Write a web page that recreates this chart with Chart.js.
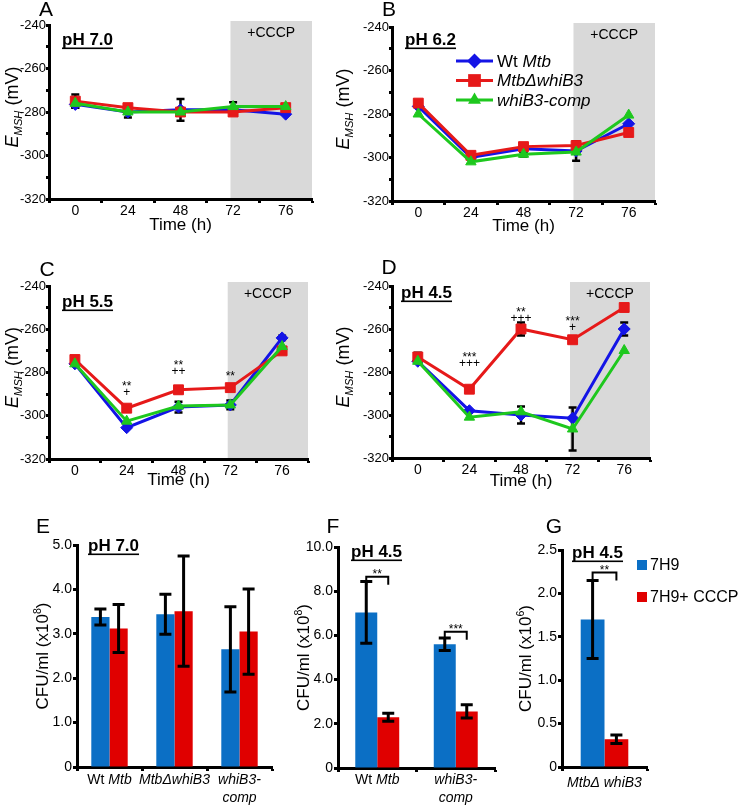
<!DOCTYPE html>
<html lang="en">
<head>
<meta charset="UTF-8">
<title>EMSH and survival</title>
<script src="https://cdn.jsdelivr.net/npm/chart.js"></script>
<style>
    body { margin: 0; background: #fff; width: 745px; height: 805px; position: relative; overflow: hidden; }
    canvas { position: absolute; }
</style>
</head>
<body>
<canvas id="chartA" width="345" height="240" style="left:0;top:0"></canvas>
<canvas id="chartB" width="345" height="240" style="left:332px;top:0"></canvas>
<canvas id="chartC" width="345" height="240" style="left:0;top:260px"></canvas>
<canvas id="chartD" width="345" height="240" style="left:332px;top:260px"></canvas>
<canvas id="chartE" width="290" height="290" style="left:0;top:515px"></canvas>
<canvas id="chartF" width="225" height="290" style="left:285px;top:515px"></canvas>
<canvas id="chartG" width="240" height="290" style="left:505px;top:515px"></canvas>
<script>
// ---- data ----
const timePoints = ['0', '24', '48', '72', '76'];

// A, pH 7.0
const aWt   = [-276.5, -280, -279, -279, -281];
const aDel  = [-275, -278, -280, -280, -278];
const aComp = [-276, -280, -280, -277.5, -277.5];
const aWtErr   = [1.5, 0, 5, 0, 0];
const aDelErr  = [3, 0, 0, 0, 0];
const aCompErr = [0, 2.5, 0, 2, 0];

// B, pH 6.2
const bWt   = [-276.5, -300, -296, -297, -284.5];
const bDel  = [-275, -299, -295, -294.5, -288.5];
const bComp = [-280, -302, -298.5, -297.5, -280.5];
const bWtErr   = [0, 0, 1.5, 4.5, 0];
const bDelErr  = [0, 1, 1, 0, 0];
const bCompErr = [0, 0, 1, 0, 0];

// C, pH 5.5
const cWt   = [-276, -305.5, -296, -295, -264];
const cDel  = [-274, -296.5, -288, -287, -270];
const cComp = [-276, -302.5, -295.5, -295, -268];
const cWtErr   = [0, 0, 2.5, 2, 1];
const cDelErr  = [1, 0, 1.5, 1.5, 0];
const cCompErr = [0, 0, 0, 0, 0];
const cStarAt   = [1, 2, 3];
const cStarVal  = [-285, -275.5, -280.5];
const cStarText = [['**', '+'], ['**', '++'], ['**']];

// D, pH 4.5
const dWt   = [-275, -298, -300, -301.5, -260];
const dDel  = [-273, -288, -260, -265, -250];
const dComp = [-275, -301, -298.5, -306.5, -270];
const dWtErr   = [0, 0, 4, 0, 3];
const dDelErr  = [2, 0, 3, 0, 0];
const dCompErr = [0, 0, 0, 10, 0];
const dStarAt   = [1, 2, 3];
const dStarVal  = [-272, -251, -255];
const dStarText = [['***', '+++'], ['**', '+++'], ['***', '+']];

// E, CFU pH 7.0 (x10^8)
const eLabels  = [['Wt Mtb'], ['MtbΔwhiB3'], ['whiB3-', 'comp']];
const e7H9     = [3.38, 3.44, 2.65];
const e7H9Err  = [0.18, 0.45, 0.96];
const eCCCP    = [3.12, 3.51, 3.05];
const eCCCPErr = [0.54, 1.24, 0.96];

// F, CFU pH 4.5 (x10^8)
const fLabels  = [['Wt Mtb'], ['whiB3-', 'comp']];
const f7H9     = [7.04, 5.6];
const f7H9Err  = [1.4, 0.28];
const fCCCP    = [2.3, 2.56];
const fCCCPErr = [0.18, 0.3];
const fSigVal  = [8.65, 6.17];
const fSigText = ['**', '***'];

// G, CFU pH 4.5 (x10^6)
const gLabels  = [['MtbΔ whiB3']];
const g7H9     = [1.7];
const g7H9Err  = [0.45];
const gCCCP    = [0.32];
const gCCCPErr = [0.05];
const gSigVal  = [2.24];
const gSigText = ['**'];

// ---- styles ----
const FONT = 'Arial, "Liberation Sans", sans-serif';
const BLUE_LINE = '#1414e6', RED_LINE = '#e61919', GREEN_LINE = '#1ec81e';
const BAR_BLUE = '#0b6fc5', BAR_RED = '#e00000';
const SHADE_FROM = 2.95; // CCCP added at 72 h

Chart.defaults.font.family = FONT;
Chart.defaults.color = '#000';

function drawRuns(ctx, runs, x, y, size) {
    let cx = x;
    runs.forEach(r => {
        const s = r.mode ? size * 0.62 : size;
        ctx.font = (r.italic ? 'italic ' : '') + s + 'px ' + FONT;
        const dy = r.mode === 'sub' ? size * 0.22 : r.mode === 'sup' ? -size * 0.42 : 0;
        ctx.fillText(r.text, cx, y + dy);
        cx += ctx.measureText(r.text).width;
    });
    return cx - x;
}
function runsWidth(ctx, runs, size) {
    let w = 0;
    runs.forEach(r => {
        const s = r.mode ? size * 0.62 : size;
        ctx.font = (r.italic ? 'italic ' : '') + s + 'px ' + FONT;
        w += ctx.measureText(r.text).width;
    });
    return w;
}
function rotatedTitle(ctx, runs, cx, cy, size) {
    ctx.save();
    ctx.translate(cx, cy);
    ctx.rotate(-Math.PI / 2);
    ctx.fillStyle = '#000';
    ctx.textAlign = 'left';
    ctx.textBaseline = 'alphabetic';
    const w = runsWidth(ctx, runs, size);
    drawRuns(ctx, runs, -w / 2, size * 0.36, size);
    ctx.restore();
}
function underlinedBold(ctx, text, x, baseline) {
    ctx.font = 'bold 17px ' + FONT;
    ctx.fillStyle = '#000';
    ctx.textAlign = 'left';
    ctx.textBaseline = 'alphabetic';
    ctx.fillText(text, x, baseline);
    ctx.fillRect(x, baseline + 2.5, ctx.measureText(text).width, 1.6);
}
function letter(ctx, t, x, y) {
    ctx.font = '21px ' + FONT;
    ctx.fillStyle = '#000';
    ctx.textAlign = 'center';
    ctx.textBaseline = 'middle';
    ctx.fillText(t, x, y);
}
// "Wt " upright, the rest italic
function strainRuns(line) {
    if (line.startsWith('Wt ')) return [{ text: 'Wt ' }, { text: line.slice(3), italic: true }];
    return [{ text: line, italic: true }];
}
function drawMarker(ctx, style, x, y, r, color) {
    ctx.fillStyle = color;
    ctx.beginPath();
    if (style === 'rect') {
        const s = r * Math.SQRT1_2;
        ctx.rect(x - s, y - s, 2 * s, 2 * s);
    } else if (style === 'rectRot') {
        ctx.moveTo(x - r, y); ctx.lineTo(x, y - r); ctx.lineTo(x + r, y); ctx.lineTo(x, y + r);
    } else {
        ctx.moveTo(x, y - r); ctx.lineTo(x + 0.866 * r, y + 0.5 * r); ctx.lineTo(x - 0.866 * r, y + 0.5 * r);
    }
    ctx.closePath();
    ctx.fill();
}
function errorBars(chart, capHalf, width) {
    const { ctx, scales: { y } } = chart;
    ctx.save();
    ctx.strokeStyle = '#000';
    ctx.lineWidth = width;
    chart.data.datasets.forEach((ds, di) => {
        const meta = chart.getDatasetMeta(di);
        ds.errors.forEach((e, i) => {
            if (!e) return;
            const px = meta.data[i].x;
            const v = ds.data[i];
            const top = y.getPixelForValue(v + e), bot = y.getPixelForValue(v - e);
            ctx.beginPath();
            ctx.moveTo(px, top); ctx.lineTo(px, bot);
            ctx.moveTo(px - capHalf, top); ctx.lineTo(px + capHalf, top);
            ctx.moveTo(px - capHalf, bot); ctx.lineTo(px + capHalf, bot);
            ctx.stroke();
        });
    });
    ctx.restore();
}

const axisGrid = { display: true, drawOnChartArea: false, drawTicks: true, tickLength: 4, tickWidth: 3, color: '#000' };
const axisBorder = { display: true, color: '#000', width: 3 };

function mkLine(label, data, errors, color, style, radius, order) {
    return {
        label, data, errors, order,
        borderColor: color, backgroundColor: color, borderWidth: 3, tension: 0,
        pointStyle: style, pointRadius: radius, pointBorderWidth: 1,
        pointBackgroundColor: color, pointBorderColor: color
    };
}

const lineMarkers = [['rectRot', BLUE_LINE, [{ text: 'Wt ' }, { text: 'Mtb', italic: true }]],
                     ['rect', RED_LINE, [{ text: 'MtbΔwhiB3', italic: true }]],
                     ['triangle', GREEN_LINE, [{ text: 'whiB3-comp', italic: true }]]];

function lineChart(id, p) {
    const plugin = {
        id: 'deco' + p.letter,
        beforeDraw(chart) {
            const { ctx, chartArea: a, scales: { x } } = chart;
            const x0 = x.getPixelForValue(SHADE_FROM);
            ctx.save();
            ctx.fillStyle = '#d9d9d9';
            ctx.fillRect(x0, a.top - 4, a.right - x0, a.bottom - a.top + 4);
            ctx.fillStyle = '#000';
            ctx.font = '14px ' + FONT;
            ctx.textAlign = 'center';
            ctx.textBaseline = 'middle';
            ctx.fillText('+CCCP', (x0 + a.right) / 2, a.top + 8);
            ctx.restore();
        },
        beforeDatasetsDraw(chart) { errorBars(chart, 4, 2.5); },
        afterDraw(chart) {
            const { ctx, chartArea: a, scales: { x, y } } = chart;
            ctx.save();
            letter(ctx, p.letter, p.letterX, p.letterY);
            underlinedBold(ctx, p.ph, a.left + p.phDx, a.top + p.phDy);
            rotatedTitle(ctx, [{ text: 'E', italic: true }, { text: 'MSH', italic: true, mode: 'sub' }, { text: ' (mV)' }],
                p.yTitleX, (a.top + a.bottom) / 2 - 5, 18);
            ctx.font = '17px ' + FONT;
            ctx.textAlign = 'center';
            ctx.textBaseline = 'middle';
            ctx.fillStyle = '#000';
            ctx.fillText('Time (h)', (a.left + a.right) / 2, a.bottom + p.xTitleDy);
            if (p.starAt) {
                ctx.font = '12px ' + FONT;
                p.starAt.forEach((idx, k) => {
                    const px = x.getPixelForValue(idx);
                    const py = y.getPixelForValue(p.starVal[k]);
                    p.starText[k].forEach((t, j) => {
                        ctx.fillText(t, px, py + j * 9 + (t[0] === '*' ? 3 : 0));
                    });
                });
            }
            if (p.legend) {
                lineMarkers.forEach((m, k) => {
                    const ly = p.legendY + k * 19.5;
                    const lx = a.left + p.legendDx;
                    ctx.strokeStyle = m[1];
                    ctx.lineWidth = 3;
                    ctx.beginPath(); ctx.moveTo(lx, ly); ctx.lineTo(lx + 37, ly); ctx.stroke();
                    drawMarker(ctx, m[0], lx + 18.5, ly, m[0] === 'rect' ? 9 : 7.5, m[1]);
                    ctx.fillStyle = '#000';
                    ctx.textAlign = 'left';
                    ctx.textBaseline = 'middle';
                    drawRuns(ctx, m[2], lx + 41, ly + 1, 17);
                });
            }
            ctx.restore();
        }
    };
    return new Chart(document.getElementById(id), {
        type: 'line',
        data: {
            labels: timePoints,
            datasets: [
                mkLine('Wt Mtb', p.wt, p.wtErr, BLUE_LINE, 'rectRot', 6, 3),
                mkLine('MtbΔwhiB3', p.del, p.delErr, RED_LINE, 'rect', 7, 2),
                mkLine('whiB3-comp', p.comp, p.compErr, GREEN_LINE, 'triangle', 6, 1)
            ]
        },
        options: {
            responsive: false,
            animation: false,
            layout: { padding: { left: 0, top: p.padTop, right: p.padRight, bottom: 0 } },
            plugins: { legend: { display: false }, tooltip: { enabled: false } },
            scales: {
                x: {
                    offset: true,
                    grid: Object.assign({ offset: true }, axisGrid),
                    border: axisBorder,
                    ticks: { font: { size: 14 }, padding: 0, maxRotation: 0 },
                    afterFit: s => { s.height = p.xHeight; }
                },
                y: {
                    min: -320, max: -240,
                    grid: Object.assign({}, axisGrid, { tickLength: 3 }),
                    border: axisBorder,
                    ticks: { stepSize: 10, autoSkip: false, padding: 0, font: { size: 13 },
                             callback: v => (v % 20 === 0 ? v : '') },
                    afterFit: s => { s.width = p.yWidth; }
                }
            }
        },
        plugins: [plugin]
    });
}

lineChart('chartA', { letter: 'A', letterX: 46, letterY: 10, ph: 'pH 7.0', phDx: 13, phDy: 20,
    wt: aWt, del: aDel, comp: aComp, wtErr: aWtErr, delErr: aDelErr, compErr: aCompErr,
    padTop: 25, padRight: 33, xHeight: 41, yWidth: 49, yTitleX: 12, xTitleDy: 26 });
lineChart('chartB', { letter: 'B', letterX: 57, letterY: 10, ph: 'pH 6.2', phDx: 13, phDy: 18,
    wt: bWt, del: bDel, comp: bComp, wtErr: bWtErr, delErr: bDelErr, compErr: bCompErr,
    padTop: 27, padRight: 22, xHeight: 39, yWidth: 60, yTitleX: 11, xTitleDy: 25,
    legend: true, legendDx: 64, legendY: 61 });
lineChart('chartC', { letter: 'C', letterX: 47, letterY: 10, ph: 'pH 5.5', phDx: 13, phDy: 21,
    wt: cWt, del: cDel, comp: cComp, wtErr: cWtErr, delErr: cDelErr, compErr: cCompErr,
    starAt: cStarAt, starVal: cStarVal, starText: cStarText,
    padTop: 26, padRight: 37, xHeight: 41, yWidth: 49, yTitleX: 12, xTitleDy: 21 });
lineChart('chartD', { letter: 'D', letterX: 57, letterY: 8, ph: 'pH 4.5', phDx: 9, phDy: 12,
    wt: dWt, del: dDel, comp: dComp, wtErr: dWtErr, delErr: dDelErr, compErr: dCompErr,
    starAt: dStarAt, starVal: dStarVal, starText: dStarText,
    padTop: 26, padRight: 27, xHeight: 42, yWidth: 60, yTitleX: 11, xTitleDy: 23 });

function barChart(id, p) {
    const plugin = {
        id: 'bars' + p.letter,
        afterDatasetsDraw(chart) {
            errorBars(chart, 6, 3);
            const { ctx, scales: { y } } = chart;
            if (!p.sigVal) return;
            const m0 = chart.getDatasetMeta(0), m1 = chart.getDatasetMeta(1);
            ctx.save();
            ctx.strokeStyle = '#000';
            ctx.lineWidth = 2;
            ctx.fillStyle = '#000';
            ctx.font = '12px ' + FONT;
            ctx.textAlign = 'center';
            ctx.textBaseline = 'middle';
            p.sigVal.forEach((v, i) => {
                const x1 = m0.data[i].x, x2 = m1.data[i].x, py = y.getPixelForValue(v);
                ctx.beginPath();
                ctx.moveTo(x1, py + 8); ctx.lineTo(x1, py); ctx.lineTo(x2, py); ctx.lineTo(x2, py + 8);
                ctx.stroke();
                ctx.fillText(p.sigText[i], (x1 + x2) / 2, py - 2);
            });
            ctx.restore();
        },
        afterDraw(chart) {
            const { ctx, chartArea: a, scales: { x } } = chart;
            ctx.save();
            letter(ctx, p.letter, p.letterX, p.letterY);
            underlinedBold(ctx, p.ph, a.left + p.phDx, a.top + p.phDy);
            rotatedTitle(ctx, [{ text: 'CFU/ml (x10' }, { text: p.exp, mode: 'sup' }, { text: ')' }],
                p.yTitleX, (a.top + a.bottom) / 2, 17);
            ctx.fillStyle = '#000';
            ctx.textBaseline = 'middle';
            chart.data.labels.forEach((lines, i) => {
                const cx = x.getPixelForValue(i);
                lines.forEach((line, j) => {
                    const runs = strainRuns(line);
                    const w = runsWidth(ctx, runs, 14);
                    ctx.textAlign = 'left';
                    drawRuns(ctx, runs, cx - w / 2, a.bottom + p.labelDy + j * 18, 14);
                });
            });
            if (p.legend) {
                [[BAR_BLUE, '7H9'], [BAR_RED, '7H9+ CCCP']].forEach((l, k) => {
                    const ly = p.legendY + k * 32;
                    ctx.fillStyle = l[0];
                    ctx.fillRect(a.right + p.legendDx, ly - 5, 10, 10);
                    ctx.fillStyle = '#000';
                    ctx.font = '16px ' + FONT;
                    ctx.textAlign = 'left';
                    ctx.fillText(l[1], a.right + p.legendDx + 13, ly + 1);
                });
            }
            ctx.restore();
        }
    };
    return new Chart(document.getElementById(id), {
        type: 'bar',
        data: {
            labels: p.labels,
            datasets: [
                { label: '7H9', data: p.a, errors: p.aErr, backgroundColor: BAR_BLUE,
                  categoryPercentage: 0.56, barPercentage: 1, borderWidth: 0 },
                { label: '7H9+ CCCP', data: p.b, errors: p.bErr, backgroundColor: BAR_RED,
                  categoryPercentage: 0.56, barPercentage: 1, borderWidth: 0 }
            ]
        },
        options: {
            responsive: false,
            animation: false,
            layout: { padding: { left: 0, top: p.padTop, right: p.padRight, bottom: 0 } },
            plugins: { legend: { display: false }, tooltip: { enabled: false } },
            scales: {
                x: {
                    grid: Object.assign({ offset: true }, axisGrid),
                    border: axisBorder,
                    ticks: { display: false },
                    afterFit: s => { s.height = p.xHeight; }
                },
                y: {
                    min: 0, max: p.max,
                    grid: axisGrid,
                    border: axisBorder,
                    ticks: { stepSize: p.step, padding: 1, font: { size: 14 },
                             callback: v => (v === 0 ? '0' : v.toFixed(1)) },
                    afterFit: s => { s.width = p.yWidth; }
                }
            }
        },
        plugins: [plugin]
    });
}

barChart('chartE', { letter: 'E', letterX: 43, letterY: 12, ph: 'pH 7.0', phDx: 11, phDy: 6,
    labels: eLabels, a: e7H9, aErr: e7H9Err, b: eCCCP, bErr: eCCCPErr, max: 5, step: 1, exp: '8',
    padTop: 30, padRight: 18, xHeight: 38, yWidth: 77, yTitleX: 42, labelDy: 13 });
barChart('chartF', { letter: 'F', letterX: 48, letterY: 12, ph: 'pH 4.5', phDx: 13, phDy: 10,
    labels: fLabels, a: f7H9, aErr: f7H9Err, b: fCCCP, bErr: fCCCPErr, max: 10, step: 2, exp: '8',
    sigVal: fSigVal, sigText: fSigText,
    padTop: 32, padRight: 15, xHeight: 37, yWidth: 53, yTitleX: 18, labelDy: 12 });
barChart('chartG', { letter: 'G', letterX: 49, letterY: 12, ph: 'pH 4.5', phDx: 10, phDy: 8,
    labels: gLabels, a: g7H9, aErr: g7H9Err, b: gCCCP, bErr: gCCCPErr, max: 2.5, step: 0.5, exp: '6',
    sigVal: gSigVal, sigText: gSigText,
    padTop: 35, padRight: 98, xHeight: 38, yWidth: 57, yTitleX: 20, labelDy: 16,
    legend: true, legendDx: -10, legendY: 50 });
</script>
</body>
</html>
